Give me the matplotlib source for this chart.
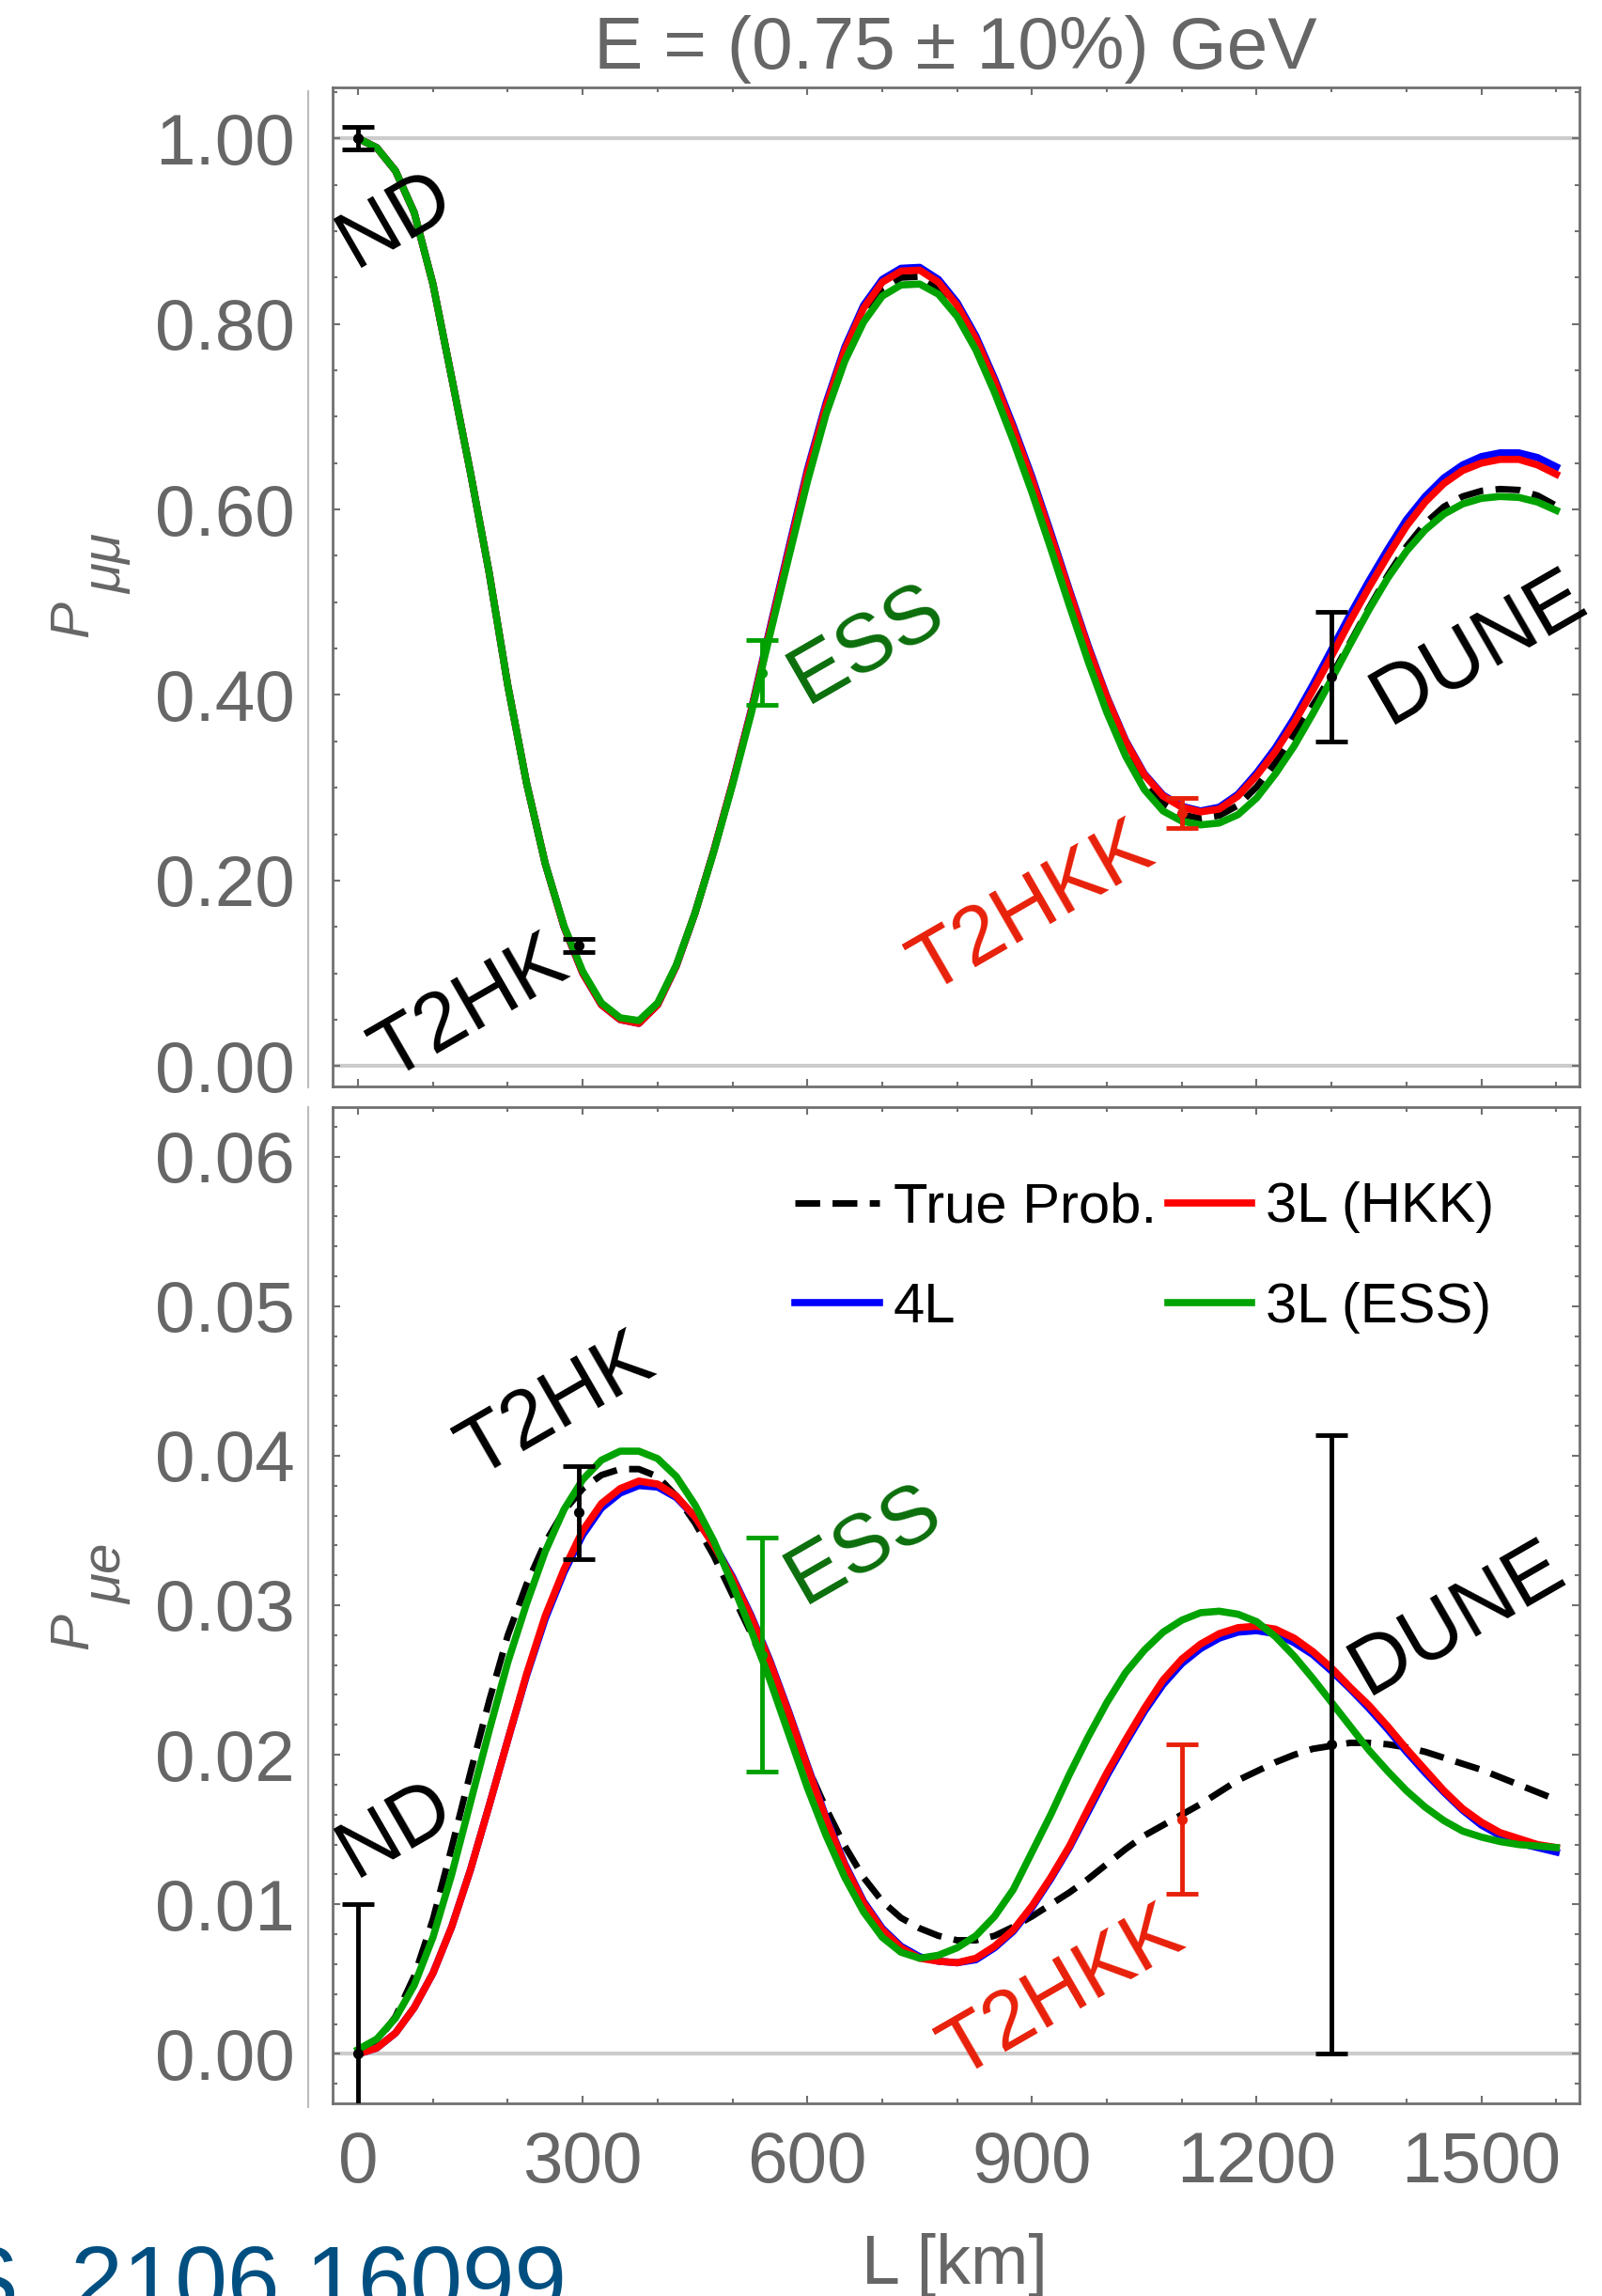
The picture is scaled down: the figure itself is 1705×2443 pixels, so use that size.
import numpy as np
import matplotlib
matplotlib.use('Agg')
import matplotlib.pyplot as plt
from matplotlib.lines import Line2D
from matplotlib.ticker import MultipleLocator, FormatStrFormatter

plt.rcParams['font.family'] = ['Liberation Sans', 'DejaVu Sans']

# baseline grid [km]
L = np.arange(0, 1625, 25)

# P_mumu (upper panel)
pmm_true = [1.000, 0.990, 0.965, 0.920, 0.843, 0.742, 0.640, 0.532, 0.410, 0.305,
            0.218, 0.150, 0.101, 0.067, 0.051, 0.047, 0.067, 0.108, 0.165, 0.232,
            0.304, 0.382, 0.468, 0.552, 0.636, 0.708, 0.767, 0.810, 0.838, 0.850,
            0.851, 0.839, 0.814, 0.778, 0.732, 0.681, 0.625, 0.565, 0.503, 0.443,
            0.389, 0.342, 0.306, 0.283, 0.271, 0.267, 0.270, 0.281, 0.301, 0.327,
            0.358, 0.389, 0.421, 0.457, 0.494, 0.529, 0.560, 0.585, 0.603, 0.614,
            0.620, 0.622, 0.621, 0.615, 0.604]
pmm_4L = [1.000, 0.990, 0.965, 0.920, 0.843, 0.742, 0.640, 0.532, 0.410, 0.305,
          0.218, 0.150, 0.100, 0.066, 0.050, 0.046, 0.066, 0.108, 0.165, 0.232,
          0.305, 0.384, 0.472, 0.558, 0.643, 0.715, 0.775, 0.820, 0.848, 0.860,
          0.861, 0.848, 0.823, 0.787, 0.741, 0.690, 0.635, 0.575, 0.513, 0.453,
          0.398, 0.351, 0.315, 0.292, 0.280, 0.275, 0.279, 0.293, 0.316, 0.343,
          0.375, 0.411, 0.449, 0.487, 0.523, 0.557, 0.589, 0.614, 0.634, 0.648,
          0.657, 0.661, 0.661, 0.656, 0.646]
pmm_hkk = [1.000, 0.990, 0.965, 0.920, 0.843, 0.742, 0.640, 0.532, 0.410, 0.305,
           0.218, 0.150, 0.100, 0.066, 0.050, 0.046, 0.066, 0.108, 0.165, 0.232,
           0.305, 0.383, 0.470, 0.555, 0.640, 0.712, 0.772, 0.817, 0.845, 0.857,
           0.858, 0.845, 0.820, 0.784, 0.738, 0.687, 0.632, 0.572, 0.511, 0.451,
           0.397, 0.350, 0.314, 0.291, 0.279, 0.274, 0.277, 0.291, 0.313, 0.339,
           0.370, 0.405, 0.442, 0.480, 0.516, 0.550, 0.582, 0.608, 0.628, 0.642,
           0.650, 0.654, 0.654, 0.648, 0.638]
pmm_ess = [1.000, 0.990, 0.965, 0.920, 0.843, 0.742, 0.640, 0.532, 0.410, 0.305,
           0.218, 0.151, 0.102, 0.068, 0.052, 0.049, 0.068, 0.109, 0.165, 0.231,
           0.303, 0.380, 0.465, 0.548, 0.630, 0.703, 0.760, 0.802, 0.830, 0.842,
           0.843, 0.832, 0.808, 0.772, 0.726, 0.674, 0.618, 0.558, 0.496, 0.436,
           0.381, 0.334, 0.298, 0.275, 0.264, 0.260, 0.262, 0.271, 0.289, 0.315,
           0.345, 0.380, 0.417, 0.455, 0.492, 0.526, 0.555, 0.578, 0.595, 0.606,
           0.612, 0.614, 0.613, 0.608, 0.599]

# P_mue (lower panel)
pme_true = [0.0000, 0.0008, 0.0025, 0.0052, 0.0090, 0.0138, 0.0188, 0.0236, 0.0280, 0.0314,
            0.0342, 0.0363, 0.0378, 0.0387, 0.0391, 0.0391, 0.0386, 0.0373, 0.0355, 0.0333,
            0.0307, 0.0281, 0.0252, 0.0222, 0.0192, 0.0164, 0.0139, 0.0118, 0.0102, 0.0091,
            0.0084, 0.0079, 0.0076, 0.0076, 0.0079, 0.0085, 0.0092, 0.0100, 0.0108, 0.0117,
            0.0127, 0.0137, 0.0146, 0.0153, 0.0160, 0.0167, 0.0175, 0.0183, 0.0189, 0.0195,
            0.0200, 0.0204, 0.0206, 0.0208, 0.0208, 0.0207, 0.0205, 0.0202, 0.0198, 0.0194,
            0.0190, 0.0185, 0.0180, 0.0175, 0.0170]
pme_4L = [0.0000, 0.0004, 0.0014, 0.0031, 0.0054, 0.0085, 0.0123, 0.0166, 0.0210, 0.0253,
          0.0291, 0.0322, 0.0347, 0.0365, 0.0375, 0.0380, 0.0379, 0.0372, 0.0359, 0.0341,
          0.0319, 0.0293, 0.0263, 0.0229, 0.0193, 0.0158, 0.0127, 0.0102, 0.0084, 0.0072,
          0.0065, 0.0062, 0.0061, 0.0063, 0.0071, 0.0082, 0.0098, 0.0117, 0.0138, 0.0162,
          0.0186, 0.0208, 0.0229, 0.0247, 0.0261, 0.0271, 0.0278, 0.0282, 0.0283, 0.0281,
          0.0275, 0.0267, 0.0256, 0.0244, 0.0231, 0.0217, 0.0202, 0.0188, 0.0175, 0.0163,
          0.0153, 0.0146, 0.0141, 0.0138, 0.0135]
pme_hkk = [0.0000, 0.0004, 0.0014, 0.0031, 0.0054, 0.0085, 0.0123, 0.0166, 0.0210, 0.0254,
           0.0293, 0.0324, 0.0350, 0.0368, 0.0378, 0.0383, 0.0381, 0.0373, 0.0359, 0.0340,
           0.0318, 0.0292, 0.0262, 0.0228, 0.0192, 0.0157, 0.0126, 0.0101, 0.0083, 0.0071,
           0.0064, 0.0062, 0.0061, 0.0064, 0.0072, 0.0083, 0.0099, 0.0118, 0.0139, 0.0164,
           0.0188, 0.0210, 0.0231, 0.0250, 0.0264, 0.0274, 0.0281, 0.0285, 0.0286, 0.0284,
           0.0278, 0.0269, 0.0258, 0.0245, 0.0233, 0.0219, 0.0204, 0.0190, 0.0176, 0.0164,
           0.0155, 0.0148, 0.0144, 0.0140, 0.0138]
pme_ess = [0.0003, 0.0010, 0.0024, 0.0046, 0.0078, 0.0120, 0.0168, 0.0216, 0.0262, 0.0301,
           0.0336, 0.0364, 0.0384, 0.0397, 0.0403, 0.0403, 0.0398, 0.0386, 0.0367, 0.0343,
           0.0314, 0.0283, 0.0250, 0.0214, 0.0178, 0.0146, 0.0118, 0.0095, 0.0078, 0.0068,
           0.0064, 0.0066, 0.0071, 0.0079, 0.0092, 0.0110, 0.0135, 0.0160, 0.0187, 0.0212,
           0.0235, 0.0255, 0.0270, 0.0282, 0.0290, 0.0295, 0.0296, 0.0294, 0.0289, 0.0279,
           0.0266, 0.0251, 0.0235, 0.0219, 0.0203, 0.0189, 0.0176, 0.0165, 0.0156, 0.0149,
           0.0145, 0.0142, 0.0140, 0.0139, 0.0138]

# experiments: baseline, measured point and error
sites = ['ND', 'T2HK', 'ESS', 'T2HKK', 'DUNE']
site_L = [0, 295, 540, 1100, 1300]
site_pmm = [1.000, 0.130, 0.424, 0.273, 0.420]
site_pmm_err = [0.012, 0.007, 0.035, 0.016, 0.070]
site_pme = [0.0000, 0.0362, 0.0267, 0.0157, 0.0207]
site_pme_err = [0.0100, 0.0031, 0.0078, 0.0050, 0.0207]
bar_colors = ['black', 'black', '#00a000', '#e8200a', 'black']
text_colors = ['black', 'black', '#0b6e0b', '#e8200a', 'black']
# label anchor points (L, P) in each panel
lab_top = [(50, 0.912), (150, 0.062), (680, 0.454), (900, 0.170), (1497, 0.450)]
lab_bot = [(50, 0.0150), (265, 0.0433), (676, 0.0340), (940, 0.0041), (1468, 0.0291)]

W, H = 1705, 2443
fig = plt.figure(figsize=(W / 100, H / 100), dpi=100)


def px_axes(x0, y0, x1, y1):
    return fig.add_axes([x0 / W, 1 - y1 / H, (x1 - x0) / W, (y1 - y0) / H])


axT = px_axes(354, 93, 1681, 1156)
axB = px_axes(354, 1178, 1681, 2238)


def style(ax, ymaj, ymin, ylim):
    ax.set_xlim(-34, 1631)
    ax.set_ylim(*ylim)
    ax.xaxis.set_major_locator(MultipleLocator(300))
    ax.xaxis.set_minor_locator(MultipleLocator(100))
    ax.yaxis.set_major_locator(MultipleLocator(ymaj))
    ax.yaxis.set_minor_locator(MultipleLocator(ymin))
    ax.yaxis.set_major_formatter(FormatStrFormatter('%.2f'))
    for s in ax.spines.values():
        s.set_color('#707070')
        s.set_linewidth(2)
    ax.tick_params(which='both', direction='in', top=True, right=True,
                   color='#707070', width=1.5, labelsize=55, labelcolor='#666666')
    ax.tick_params(which='major', length=6)
    ax.tick_params(which='minor', length=3.5)
    ax.tick_params(axis='y', pad=29)
    ax.tick_params(axis='x', pad=21)
    ax.axhline(0, color='#cccccc', lw=3, zorder=1)


style(axT, 0.2, 0.05, (-0.022, 1.055))
style(axB, 0.01, 0.002, (-0.0033, 0.0633))
axT.axhline(1.0, color='#cccccc', lw=3, zorder=1)
axT.tick_params(labelbottom=False)

dash = (0, (3.8, 1.9))
kw = dict(solid_joinstyle='round', dash_joinstyle='round')
for ax, d in ((axT, (pmm_true, pmm_4L, pmm_hkk, pmm_ess)),
              (axB, (pme_true, pme_4L, pme_hkk, pme_ess))):
    hd, = ax.plot(L, d[0], color='black', lw=5, ls=dash, zorder=2, label='True Prob.', **kw)
    hb, = ax.plot(L, d[1], color='#0000ff', lw=5.5, zorder=3, label='4L', **kw)
    hr, = ax.plot(L, d[2], color='#ff0000', lw=5.5, zorder=4, label='3L (HKK)', **kw)
    hg, = ax.plot(L, d[3], color='#00a300', lw=5.5, zorder=5, label='3L (ESS)', **kw)

# error bars of each experiment
for i in range(len(sites)):
    for ax, yv, ye in ((axT, site_pmm, site_pmm_err), (axB, site_pme, site_pme_err)):
        ax.errorbar(site_L[i], yv[i], yerr=ye[i], fmt='o', ms=7, color=bar_colors[i],
                    elinewidth=3.5, capsize=12, capthick=3.5, zorder=6)
    axT.text(*lab_top[i], sites[i], rotation=30, rotation_mode='anchor', ha='center',
             va='center', fontsize=63, color=text_colors[i], zorder=7)
    axB.text(*lab_bot[i], sites[i], rotation=30, rotation_mode='anchor', ha='center',
             va='center', fontsize=63, color=text_colors[i], zorder=7)

axB.legend(handles=[hd, hb, hr, hg], ncol=2, loc='upper left',
           bbox_to_anchor=(0.371, 0.925), frameon=False, fontsize=43,
           handlelength=1.5, handletextpad=0.25, columnspacing=0.2,
           labelspacing=0.86, borderpad=0, borderaxespad=0)

# thin axis lines to the left of both frames
for y0, y1 in ((97, 1157), (1178, 2242)):
    fig.add_artist(Line2D([328 / W, 328 / W], [1 - y0 / H, 1 - y1 / H],
                          color='#bbbbbb', lw=1.5))

fig.text(1017 / W, 1 - 73 / H, 'E = (0.75 ± 10%) GeV', ha='center', va='baseline',
         fontsize=56.5, color='#666666')

# rotated axis titles: P with its subscript set a bit lower
for (yp, ys), sub in (((659, 600), 'μμ'), ((1736, 1675), 'μe')):
    fig.text(93 / W, 1 - yp / H, 'P', rotation=90, rotation_mode='anchor',
             ha='center', va='baseline', fontsize=42, style='italic', color='#666666')
    fig.text(129 / W, 1 - ys / H, sub, rotation=90, rotation_mode='anchor',
             ha='center', va='baseline', fontsize=42, style='italic', color='#666666')

fig.text(1016 / W, 1 - 2430 / H, 'L [km]', ha='center', va='baseline',
         fontsize=53, color='#666666')
fig.text(603 / W, 1 - 2460 / H, 'S, 2106.16099', ha='right', va='baseline',
         fontsize=72, color='#004f80')

fig.savefig('out.png', dpi=100)
